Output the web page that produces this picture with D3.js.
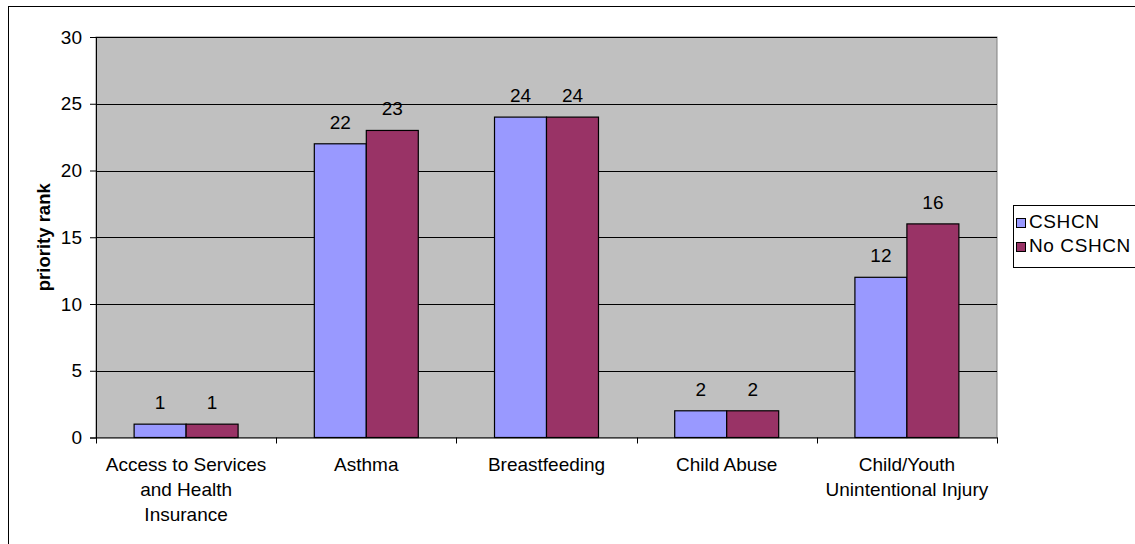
<!DOCTYPE html>
<html>
<head>
<meta charset="utf-8">
<script src="https://cdn.jsdelivr.net/npm/d3@7"></script>
<style>
  html, body { margin: 0; padding: 0; background: #fff; }
  svg { display: block; font-family: Arial, "Liberation Sans", sans-serif; }
</style>
</head>
<body>
<svg id="chart" width="1135" height="544"></svg>
<script>
// Priority rank by topic, for respondents with and without CSHCN
const categories = [
  ["Access to Services", "and Health", "Insurance"],
  ["Asthma"],
  ["Breastfeeding"],
  ["Child Abuse"],
  ["Child/Youth", "Unintentional Injury"]
];
const seriesNames = ["CSHCN", "No CSHCN"];
const cshcn = [1, 22, 24, 2, 12];
const noCshcn = [1, 23, 24, 2, 16];
const yTicks = [0, 5, 10, 15, 20, 25, 30];

const colors = ["#9999FF", "#993366"];
const fontSize = 19;
const svg = d3.select("#chart");

// outer chart frame
svg.append("rect")
  .attr("x", 8.5).attr("y", 6.5)
  .attr("width", 1140).attr("height", 560)
  .attr("fill", "#fff").attr("stroke", "#000").attr("stroke-width", 1);

const plot = { left: 96, right: 997, top: 37, bottom: 437.5 };

const x = d3.scaleBand()
  .domain(d3.range(categories.length))
  .range([plot.left, plot.right])
  .paddingInner(0).paddingOuter(0);

const y = d3.scaleLinear().domain([0, 30]).range([plot.bottom, plot.top]);

const groupFrac = 0.577;
const xs = d3.scaleBand()
  .domain(d3.range(seriesNames.length))
  .range([x.bandwidth() * (1 - groupFrac) / 2, x.bandwidth() * (1 + groupFrac) / 2]);

// plot background
svg.append("rect")
  .attr("x", plot.left).attr("y", plot.top)
  .attr("width", plot.right - plot.left).attr("height", plot.bottom - plot.top)
  .attr("fill", "#C0C0C0").attr("stroke", "#808080").attr("stroke-width", 1);

// gridlines
svg.append("g")
  .selectAll("line")
  .data(yTicks.filter(d => d > 0))
  .join("line")
  .attr("x1", plot.left).attr("x2", plot.right)
  .attr("y1", d => Math.round(y(d)) + 0.5).attr("y2", d => Math.round(y(d)) + 0.5)
  .attr("stroke", "#000").attr("stroke-width", 1);

// y axis
const yAxis = svg.append("g")
  .attr("transform", `translate(${plot.left},0)`)
  .call(d3.axisLeft(y).tickValues(yTicks).tickSize(6).tickPadding(8));
yAxis.select(".domain").attr("stroke", "#000");
yAxis.selectAll("text").attr("font-size", fontSize).attr("fill", "#000")
  .attr("font-family", "Arial, 'Liberation Sans', sans-serif");

// x axis
const xAxis = svg.append("g")
  .attr("transform", `translate(0,${plot.bottom})`)
  .call(d3.axisBottom(x).tickValues([]).tickSize(0));
xAxis.select(".domain").attr("stroke", "#000");
// category boundary ticks
svg.append("g")
  .selectAll("line")
  .data(d3.range(categories.length + 1))
  .join("line")
  .attr("x1", d => Math.round(plot.left + d * x.bandwidth()) + 0.5)
  .attr("x2", d => Math.round(plot.left + d * x.bandwidth()) + 0.5)
  .attr("y1", plot.bottom).attr("y2", plot.bottom + 6)
  .attr("stroke", "#000");

// category labels
const catLabels = svg.append("g");
categories.forEach((lines, i) => {
  const t = catLabels.append("text")
    .attr("x", x(i) + x.bandwidth() / 2)
    .attr("y", 471)
    .attr("text-anchor", "middle")
    .attr("font-size", fontSize)
    .attr("fill", "#000");
  lines.forEach((line, j) => {
    t.append("tspan")
      .attr("x", x(i) + x.bandwidth() / 2)
      .attr("dy", j === 0 ? 0 : 25)
      .text(line);
  });
});

// bars with value labels
const data = [cshcn, noCshcn];
data.forEach((vals, s) => {
  const g = svg.append("g");
  g.selectAll("rect")
    .data(vals)
    .join("rect")
    .attr("x", (d, i) => x(i) + xs(s))
    .attr("y", d => y(d))
    .attr("width", xs.bandwidth())
    .attr("height", d => y(0) - y(d))
    .attr("fill", colors[s])
    .attr("stroke", "#000").attr("stroke-width", 1.2);
  g.selectAll("text")
    .data(vals)
    .join("text")
    .attr("x", (d, i) => x(i) + xs(s) + xs.bandwidth() / 2)
    .attr("y", d => y(d) - 15)
    .attr("text-anchor", "middle")
    .attr("font-size", fontSize)
    .attr("fill", "#000")
    .text(d => d);
});

// y axis title
svg.append("text")
  .attr("transform", `translate(50,${(plot.top + plot.bottom) / 2}) rotate(-90)`)
  .attr("text-anchor", "middle")
  .attr("font-size", 18.5)
  .attr("font-weight", "bold")
  .text("priority rank");

// legend
const legend = svg.append("g");
legend.append("rect")
  .attr("x", 1013.5).attr("y", 205.5)
  .attr("width", 130).attr("height", 62)
  .attr("fill", "#fff").attr("stroke", "#000");
seriesNames.forEach((name, i) => {
  legend.append("rect")
    .attr("x", 1016.5).attr("y", 218.5 + i * 24)
    .attr("width", 9).attr("height", 9)
    .attr("fill", colors[i]).attr("stroke", "#000");
  legend.append("text")
    .attr("x", 1029).attr("y", 228 + i * 23.5)
    .attr("font-size", fontSize)
    .attr("letter-spacing", 0.6)
    .attr("fill", "#000")
    .text(name);
});
</script>
</body>
</html>
